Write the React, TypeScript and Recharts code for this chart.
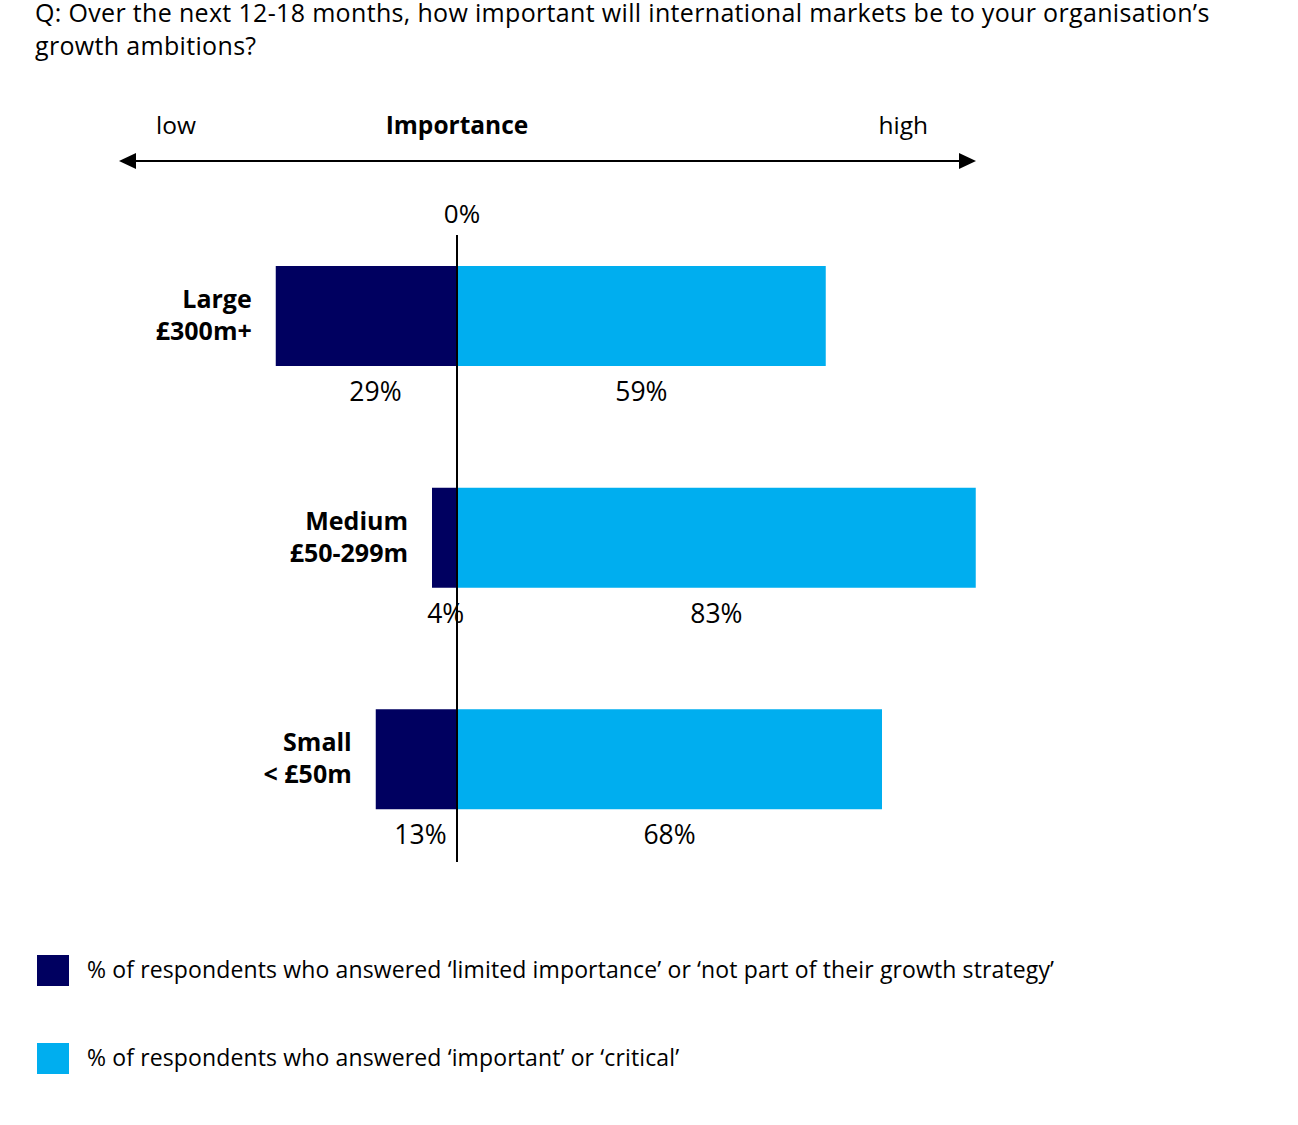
import React from 'react';
import { BarChart, Bar, XAxis, YAxis, ReferenceLine, LabelList } from 'recharts';

// Company size groups and their revenue bands
const categories = ['Large', 'Medium', 'Small'];
const sizeBands = ['£300m+', '£50-299m', '< £50m'];

// Share of respondents (%) per group
const limitedShare = [29, 4, 13]; // 'limited importance' or 'not part of growth strategy'
const importantShare = [59, 83, 68]; // 'important' or 'critical'

const zeroTick = [0];
const valueDomain: [number, number] = [-50, 90];

const questionLines = [
  'Q: Over the next 12-18 months, how important will international markets be to your organisation\u2019s',
  'growth ambitions?',
];
const scaleLabels = { low: 'low', title: 'Importance', high: 'high' };
const legendLabels = [
  '% of respondents who answered \u2018limited importance\u2019 or \u2018not part of their growth strategy\u2019',
  '% of respondents who answered \u2018important\u2019 or \u2018critical\u2019',
];

const DARK = '#000060';
const LIGHT = '#00AEEF';
const FONT = '"Open Sans", Lato, sans-serif';

const data = categories.map((name, i) => ({
  name,
  band: sizeBands[i],
  limited: -limitedShare[i],
  important: importantShare[i],
}));

const W = 1298;
const H = 1125;

const boxOf = (p: any) => {
  const vb = p.viewBox ?? p;
  const x = Number(vb.x);
  const y = Number(vb.y);
  const w = Number(vb.width);
  const h = Number(vb.height);
  return {
    left: Math.min(x, x + w),
    right: Math.max(x, x + w),
    top: Math.min(y, y + h),
    bottom: Math.max(y, y + h),
  };
};

// Percentage under each bar; negative-side labels sit slightly toward the zero line
const ValueLabel = (p: any) => {
  const b = boxOf(p);
  const v = Number(p.value);
  const cx = v < 0 ? b.right - 0.45 * (b.right - b.left) : (b.left + b.right) / 2;
  return (
    <text x={cx} y={b.bottom + 35} textAnchor="middle" fontFamily={FONT} fontSize={26.5} fill="#000">
      {`${Math.abs(v)}%`}
    </text>
  );
};

const GroupLabel = (p: any) => {
  const b = boxOf(p);
  const row = data[p.index] ?? data.find((d) => d.name === p.value);
  const cy = (b.top + b.bottom) / 2;
  const x = b.left - 24;
  return (
    <text x={x} y={cy - 9} textAnchor="end" fontFamily={FONT} fontSize={25} fontWeight={700} fill="#000">
      <tspan x={x} y={cy - 8}>{row?.name}</tspan>
      <tspan x={x} y={cy + 24}>{row?.band}</tspan>
    </text>
  );
};

const ZeroTick = (p: any) => (
  <text x={p.x + 5} y={p.y + 1} textAnchor="middle" fontFamily={FONT} fontSize={26} fill="#000">
    {`${p.payload.value}%`}
  </text>
);

export default function App() {
  return (
    <div style={{ position: 'absolute', left: 0, top: 0, width: W, height: H, background: '#fff' }}>
      <BarChart
        width={W}
        height={H}
        data={data}
        layout="vertical"
        stackOffset="sign"
        margin={{ top: 205, right: 278.5, bottom: 263, left: 144.5 }}
      >
        <XAxis
          type="number"
          orientation="top"
          domain={valueDomain}
          ticks={zeroTick}
          axisLine={false}
          tickLine={false}
          tickSize={0}
          tickMargin={13}
          height={30}
          tick={<ZeroTick />}
          allowDataOverflow
        />
        <YAxis type="category" dataKey="name" hide padding={{ top: -30, bottom: -8 }} />
        <Bar dataKey="limited" stackId="s" fill={DARK} barSize={100} isAnimationActive={false}>
          <LabelList dataKey="limited" content={<ValueLabel />} />
          <LabelList dataKey="name" content={<GroupLabel />} />
        </Bar>
        <Bar dataKey="important" stackId="s" fill={LIGHT} barSize={100} isAnimationActive={false}>
          <LabelList dataKey="important" content={<ValueLabel />} />
        </Bar>
        <ReferenceLine x={0} stroke="#000" strokeWidth={2} ifOverflow="visible" />
      </BarChart>

      <svg
        width={W}
        height={H}
        style={{ position: 'absolute', left: 0, top: 0, pointerEvents: 'none' }}
        fontFamily={FONT}
      >
        {questionLines.map((line, i) => (
          <text key={i} x={35} y={22 + i * 33} fontSize={25} letterSpacing={0.33} fill="#000">
            {line}
          </text>
        ))}

        <text x={156} y={134} fontSize={24.5} fill="#000">{scaleLabels.low}</text>
        <text x={457} y={134} fontSize={24.5} fontWeight={700} textAnchor="middle" fill="#000">
          {scaleLabels.title}
        </text>
        <text x={928} y={134} fontSize={24.5} textAnchor="end" fill="#000">{scaleLabels.high}</text>

        <line x1={132} y1={161} x2={962} y2={161} stroke="#000" strokeWidth={2} />
        <polygon points="119,161 136,153 136,169" fill="#000" />
        <polygon points="976,161 959,153 959,169" fill="#000" />

        {legendLabels.map((label, i) => (
          <g key={i}>
            <rect x={37} y={955 + i * 88} width={32} height={31} fill={i === 0 ? DARK : LIGHT} />
            <text x={87} y={978 + i * 88} fontSize={23} letterSpacing={0.13} fill="#000">
              {label}
            </text>
          </g>
        ))}
      </svg>
    </div>
  );
}
